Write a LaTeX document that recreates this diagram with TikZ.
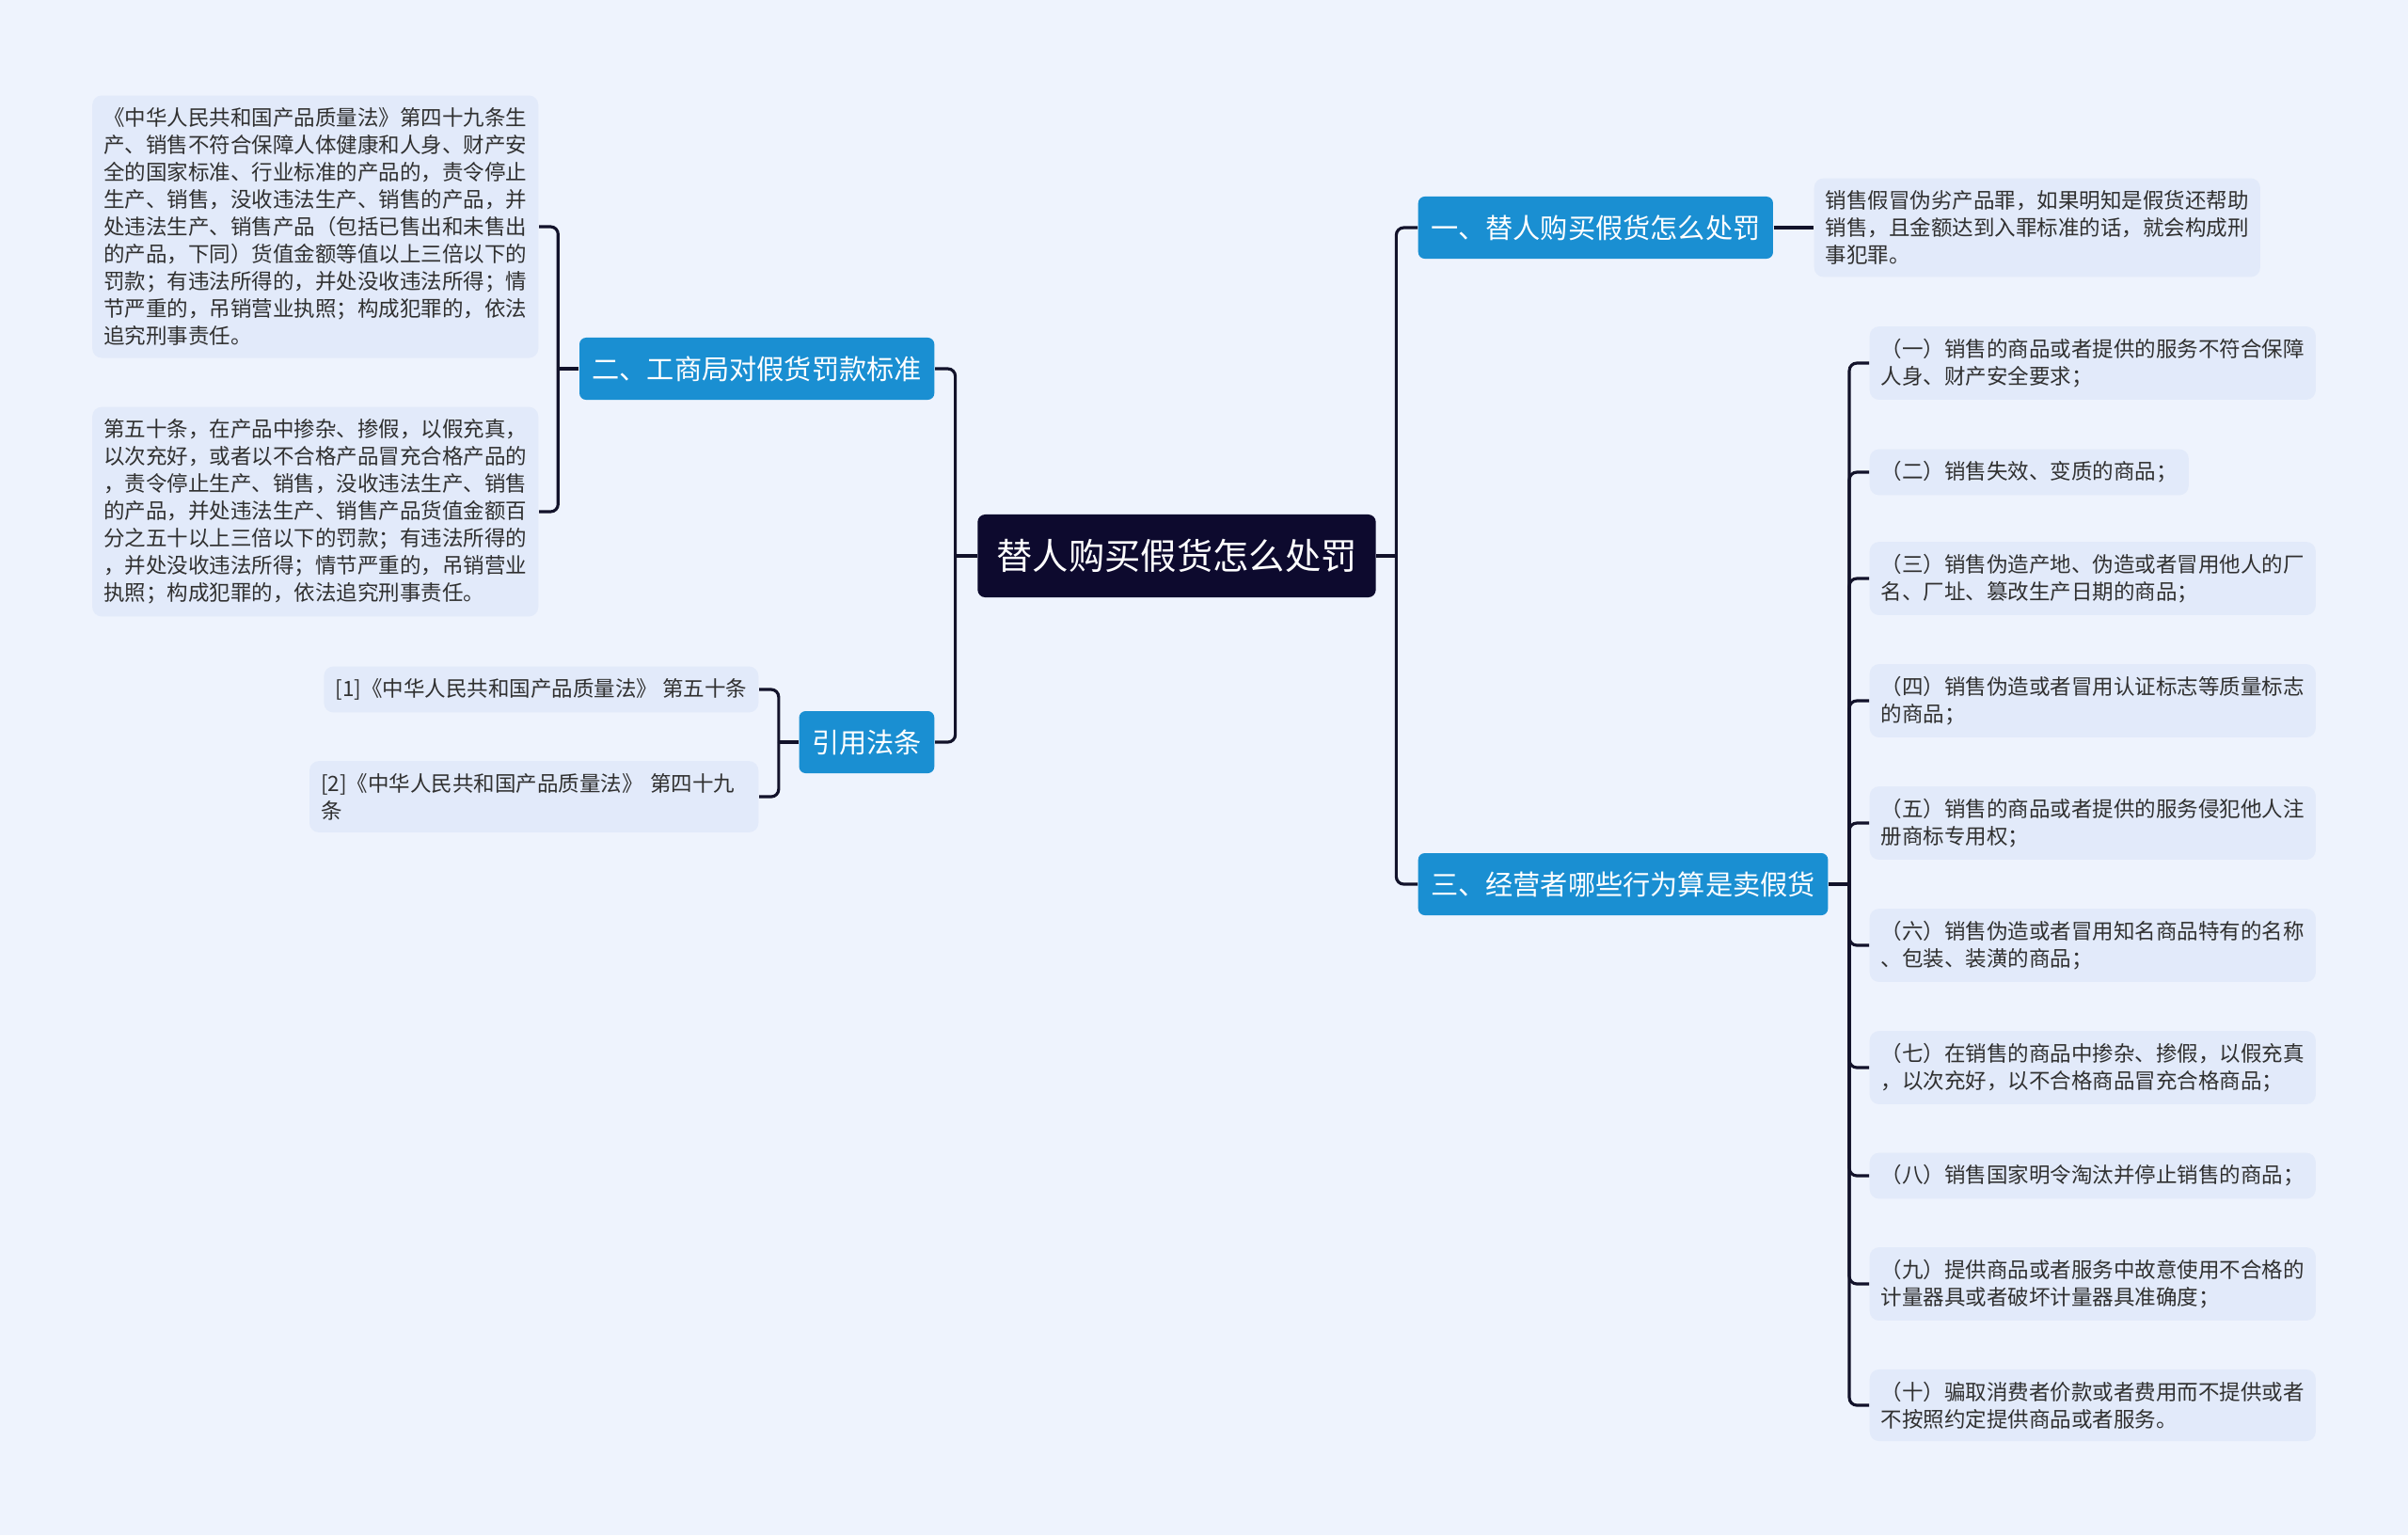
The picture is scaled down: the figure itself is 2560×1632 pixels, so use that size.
\documentclass[tikz,border=0pt]{standalone}
\usepackage{fontspec}
\newfontfamily\cjk{Noto Sans CJK SC}
\usetikzlibrary{calc}

\definecolor{bgcol}{RGB}{238,243,253}
\definecolor{leafcol}{RGB}{226,234,250}
\definecolor{bluecol}{RGB}{26,143,210}
\definecolor{rootcol}{RGB}{13,10,46}
\definecolor{linecol}{RGB}{18,18,42}
\definecolor{txtcol}{RGB}{48,48,48}

\begin{document}
\begin{tikzpicture}[x=0.01cm,y=-0.01cm,
  rootbox/.style={fill=rootcol, text=white, rounded corners=0.08cm, inner xsep=0.2cm, minimum height=0.88cm, font=\cjk\fontsize{10.9pt}{13pt}\selectfont},
  topicbox/.style={fill=bluecol, text=white, rounded corners=0.07cm, inner xsep=0.135cm, minimum height=0.66cm, font=\cjk\fontsize{8.3pt}{10pt}\selectfont},
  leafbox/.style={fill=leafcol, text=txtcol, rounded corners=0.1cm, inner xsep=0.12cm, inner ysep=0.13cm, align=left, font=\cjk\fontsize{6.4pt}{8.25pt}\selectfont},
  link/.style={draw=linecol, line width=0.9pt, rounded corners=0.08cm}
]

% latar
\fill[bgcol] (0,0) rectangle (2560,1632);
\useasboundingbox (0,0) rectangle (2560,1632);

% --- pusat ---
\node[rootbox] (root) at (1251,591) {替人购买假货怎么处罚};

% --- kanan ---
\node[topicbox, anchor=west] (t1) at (1507,242) {一、替人购买假货怎么处罚};
\node[topicbox, anchor=west] (t3) at (1507,940) {三、经营者哪些行为算是卖假货};

\node[leafbox, anchor=west] (t1leaf) at (1928,242) {销售假冒伪劣产品罪，如果明知是假货还帮助\\销售，且金额达到入罪标准的话，就会构成刑\\事犯罪。};

\node[leafbox, anchor=west] (s1) at (1987,386) {（一）销售的商品或者提供的服务不符合保障\\人身、财产安全要求；};
\node[leafbox, anchor=west] (s2) at (1987,502) {（二）销售失效、变质的商品；};
\node[leafbox, anchor=west] (s3) at (1987,615) {（三）销售伪造产地、伪造或者冒用他人的厂\\名、厂址、篡改生产日期的商品；};
\node[leafbox, anchor=west] (s4) at (1987,745) {（四）销售伪造或者冒用认证标志等质量标志\\的商品；};
\node[leafbox, anchor=west] (s5) at (1987,875) {（五）销售的商品或者提供的服务侵犯他人注\\册商标专用权；};
\node[leafbox, anchor=west] (s6) at (1987,1005) {（六）销售伪造或者冒用知名商品特有的名称\\、包装、装潢的商品；};
\node[leafbox, anchor=west] (s7) at (1987,1135) {（七）在销售的商品中掺杂、掺假，以假充真\\，以次充好，以不合格商品冒充合格商品；};
\node[leafbox, anchor=west] (s8) at (1987,1250) {（八）销售国家明令淘汰并停止销售的商品；};
\node[leafbox, anchor=west] (s9) at (1987,1365) {（九）提供商品或者服务中故意使用不合格的\\计量器具或者破坏计量器具准确度；};
\node[leafbox, anchor=west] (s10) at (1987,1494) {（十）骗取消费者价款或者费用而不提供或者\\不按照约定提供商品或者服务。};

% --- kiri ---
\node[topicbox, anchor=east] (t2) at (994,392) {二、工商局对假货罚款标准};
\node[topicbox, anchor=east] (t4) at (994,789) {引用法条};

\node[leafbox, anchor=east] (a1) at (573,241) {《中华人民共和国产品质量法》第四十九条生\\产、销售不符合保障人体健康和人身、财产安\\全的国家标准、行业标准的产品的，责令停止\\生产、销售，没收违法生产、销售的产品，并\\处违法生产、销售产品（包括已售出和未售出\\的产品，下同）货值金额等值以上三倍以下的\\罚款；有违法所得的，并处没收违法所得；情\\节严重的，吊销营业执照；构成犯罪的，依法\\追究刑事责任。};
\node[leafbox, anchor=east] (a2) at (573,544) {第五十条，在产品中掺杂、掺假，以假充真，\\以次充好，或者以不合格产品冒充合格产品的\\，责令停止生产、销售，没收违法生产、销售\\的产品，并处违法生产、销售产品货值金额百\\分之五十以上三倍以下的罚款；有违法所得的\\，并处没收违法所得；情节严重的，吊销营业\\执照；构成犯罪的，依法追究刑事责任。};

\node[leafbox, anchor=east] (b1) at (807,733) {[1]《中华人民共和国产品质量法》 第五十条};
\node[leafbox, anchor=east, text width=4.53cm] (b2) at (807,847) {[2]《中华人民共和国产品质量法》 第四十九\\条};

% --- garis ---
\coordinate (rj) at ($(root.east)+(21,0)$);
\coordinate (lj) at ($(root.west)-(23,0)$);
\coordinate (sj) at ($(t3.east)+(22,0)$);
\coordinate (aj) at ($(t2.west)-(22,0)$);
\coordinate (bj) at ($(t4.west)-(21,0)$);

\draw[link] (root.east) -- (rj);
\draw[link] (rj) |- (t1.west);
\draw[link] (rj) |- (t3.west);
\draw[link] (t1.east) -- (t1leaf.west);

\draw[link] (t3.east) -- (sj);
\foreach \i in {1,...,10}
  \draw[link] (sj) |- (s\i.west);

\draw[link] (root.west) -- (lj);
\draw[link] (lj) |- (t2.east);
\draw[link] (lj) |- (t4.east);

\draw[link] (t2.west) -- (aj);
\foreach \i in {1,2}
  \draw[link] (aj) |- (a\i.east);

\draw[link] (t4.west) -- (bj);
\foreach \i in {1,2}
  \draw[link] (bj) |- (b\i.east);

\end{tikzpicture}
\end{document}
